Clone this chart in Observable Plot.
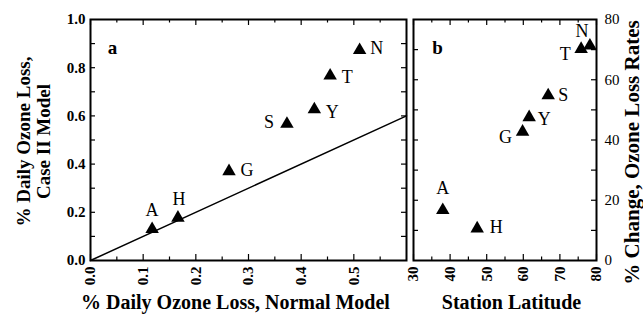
<!DOCTYPE html>
<html>
<head>
<meta charset="utf-8">
<script src="https://cdn.jsdelivr.net/npm/d3@7"></script>
<script src="https://cdn.jsdelivr.net/npm/@observablehq/plot@0.6"></script>
<style>
  html, body { margin: 0; padding: 0; background: #fff; }
  #wrap { position: relative; width: 643px; height: 315px; overflow: hidden; background: #fff; }
  #wrap svg { position: absolute; top: 0; }
  #wrap svg, #wrap svg text { font-family: "Liberation Serif", "Times New Roman", "DejaVu Serif", serif !important; }
</style>
</head>
<body>
<div id="wrap"></div>
<script>
// ---- data ----
const stations = ["A", "H", "G", "S", "Y", "T", "N"];
const normalLoss = [0.117, 0.166, 0.263, 0.373, 0.425, 0.455, 0.511];
const case2Loss  = [0.136, 0.183, 0.376, 0.573, 0.633, 0.773, 0.879];
const latitude   = [38.0, 47.4, 59.8, 66.8, 61.6, 75.8, 78.2];
const changeRate = [17.2, 11.1, 43.2, 55.3, 48.0, 70.7, 71.8];
const refLineX = [0, 0.6];
const refLineY = [0, 0.6];
const xTicksA = [0, 0.1, 0.2, 0.3, 0.4, 0.5];
const yTicksA = [0, 0.2, 0.4, 0.6, 0.8, 1.0];
const xTicksB = [30, 40, 50, 60, 70, 80];
const yTicksB = [0, 20, 40, 60, 80];

// ---- label placement (layout only) ----
const labelOffsetA = {A: [0, -17], H: [1, -17], G: [18, 0], S: [-18, 0], Y: [18, 4], T: [17, 3], N: [17, 0]};
const labelOffsetB = {A: [0, -20], H: [19, 0], G: [-17, 7], S: [15, 1], Y: [15, 3], T: [-16, 7], N: [-8, -13]};

const rowsA = stations.map((s, i) => ({s, x: normalLoss[i], y: case2Loss[i]}));
const rowsB = stations.map((s, i) => ({s, x: latitude[i], y: changeRate[i]}));
const refLine = refLineX.map((x, i) => ({x, y: refLineY[i]}));

const serif = "Liberation Serif";
const baseStyle = {fontFamily: serif, fontSize: "15px", fontWeight: "bold", background: "white", color: "black", overflow: "visible"};

const range = (a, b, s) => d3.range(Math.round((b - a) / s) + 1).map(k => +(a + k * s).toFixed(4));

// inward-pointing ticks on all four sides of the frame
function innerTicks(xMajor, xMinor, yTicks, fw, fh) {
  const majLen = 6, minLen = 3.5, yLen = 5;
  return [
    Plot.tickX(xMajor, {x: d => d, insetTop: fh - majLen, strokeWidth: 1.2}),
    Plot.tickX(xMajor, {x: d => d, insetBottom: fh - majLen, strokeWidth: 1.2}),
    Plot.tickX(xMinor, {x: d => d, insetTop: fh - minLen, strokeWidth: 1.2}),
    Plot.tickX(xMinor, {x: d => d, insetBottom: fh - minLen, strokeWidth: 1.2}),
    Plot.tickY(yTicks, {y: d => d, insetRight: fw - yLen, strokeWidth: 1.2}),
    Plot.tickY(yTicks, {y: d => d, insetLeft: fw - yLen, strokeWidth: 1.2})
  ];
}

function pointLabels(rows, offsets) {
  return rows.map(r => Plot.text([r], {
    x: "x", y: "y", text: "s",
    dx: offsets[r.s][0], dy: offsets[r.s][1],
    textAnchor: "middle", lineAnchor: "middle",
    fontSize: 18, fontWeight: "normal", fontFamily: serif, fill: "black"
  }));
}

// ---- panel a ----
const mLA = 90, mRA = 4, mT = 19, mB = 55, H = 315, WA = 410;
const fwA = WA - mLA - mRA, fh = H - mT - mB;
const cxA = mLA + fwA / 2, cy = mT + fh / 2;
const plotA = Plot.plot({
  width: WA, height: H,
  marginLeft: mLA, marginRight: mRA, marginTop: mT, marginBottom: mB,
  style: baseStyle,
  x: {domain: [0, 0.6]},
  y: {domain: [0, 1]},
  marks: [
    Plot.line(refLine, {x: "x", y: "y", stroke: "black", strokeWidth: 1.5}),
    ...innerTicks(xTicksA, range(0.05, 0.55, 0.1), range(0.1, 0.9, 0.1), fwA, fh),
    Plot.frame({stroke: "black", strokeWidth: 2}),
    Plot.axisX(xTicksA, {tickSize: 0, tickPadding: 6, tickRotate: -90, tickFormat: d3.format(".1f"), label: null, fontSize: 15, fontWeight: "bold"}),
    Plot.axisY(yTicksA, {tickSize: 0, tickPadding: 5, tickFormat: d3.format(".1f"), label: null, fontSize: 15, fontWeight: "bold"}),
    Plot.dot(rowsA, {x: "x", y: "y", symbol: "triangle", r: 5, fill: "black", stroke: null, dy: 1.5}),
    ...pointLabels(rowsA, labelOffsetA),
    Plot.text(["a"], {frameAnchor: "middle", dx: 112 - cxA, dy: 47 - cy, textAnchor: "middle", lineAnchor: "middle", fontSize: 19, fontWeight: "bold", fontFamily: serif}),
    Plot.text(["% Daily Ozone Loss, Normal Model"], {frameAnchor: "middle", dx: 235 - cxA, dy: 302 - cy, textAnchor: "middle", lineAnchor: "middle", fontSize: 20, fontWeight: "bold", fontFamily: serif}),
    Plot.text(["% Daily Ozone Loss,\nCase II Model"], {frameAnchor: "middle", rotate: -90, dx: 33 - cxA, dy: 141 - cy, textAnchor: "middle", lineAnchor: "middle", lineHeight: 1.05, fontSize: 19, fontWeight: "bold", fontFamily: serif})
  ]
});
plotA.style.left = "0px";

// ---- panel b ----
const mLB = 3, mRB = 47, WB = 233;
const fwB = WB - mLB - mRB;
const cxB = mLB + fwB / 2;
const plotB = Plot.plot({
  width: WB, height: H,
  marginLeft: mLB, marginRight: mRB, marginTop: mT, marginBottom: mB,
  style: baseStyle,
  x: {domain: [30, 80]},
  y: {domain: [0, 80]},
  marks: [
    ...innerTicks(xTicksB, range(35, 75, 10), range(10, 70, 10), fwB, fh),
    Plot.frame({stroke: "black", strokeWidth: 2}),
    Plot.axisX(xTicksB, {tickSize: 0, tickPadding: 6, tickRotate: -90, tickFormat: d3.format("d"), label: null, fontSize: 15, fontWeight: "bold"}),
    Plot.axisY(yTicksB, {anchor: "right", tickSize: 0, tickPadding: 8, tickFormat: d3.format("d"), label: null, fontSize: 15, fontWeight: "normal"}),
    Plot.dot(rowsB, {x: "x", y: "y", symbol: "triangle", r: 5, fill: "black", stroke: null, dy: 1.5}),
    ...pointLabels(rowsB, labelOffsetB),
    Plot.text(["b"], {frameAnchor: "middle", dx: 437 - 410 - cxB, dy: 47 - cy, textAnchor: "middle", lineAnchor: "middle", fontSize: 19, fontWeight: "bold", fontFamily: serif}),
    Plot.text(["Station Latitude"], {frameAnchor: "middle", dx: 511 - 410 - cxB, dy: 302 - cy, textAnchor: "middle", lineAnchor: "middle", fontSize: 20, fontWeight: "bold", fontFamily: serif}),
    Plot.text(["% Change, Ozone Loss Rates"], {frameAnchor: "middle", rotate: -90, dx: 632 - 410 - cxB, dy: 152 - cy, textAnchor: "middle", lineAnchor: "middle", fontSize: 21, fontWeight: "bold", fontFamily: serif})
  ]
});
plotB.style.left = "410px";

const wrap = document.getElementById("wrap");
wrap.appendChild(plotA);
wrap.appendChild(plotB);
</script>
</body>
</html>
